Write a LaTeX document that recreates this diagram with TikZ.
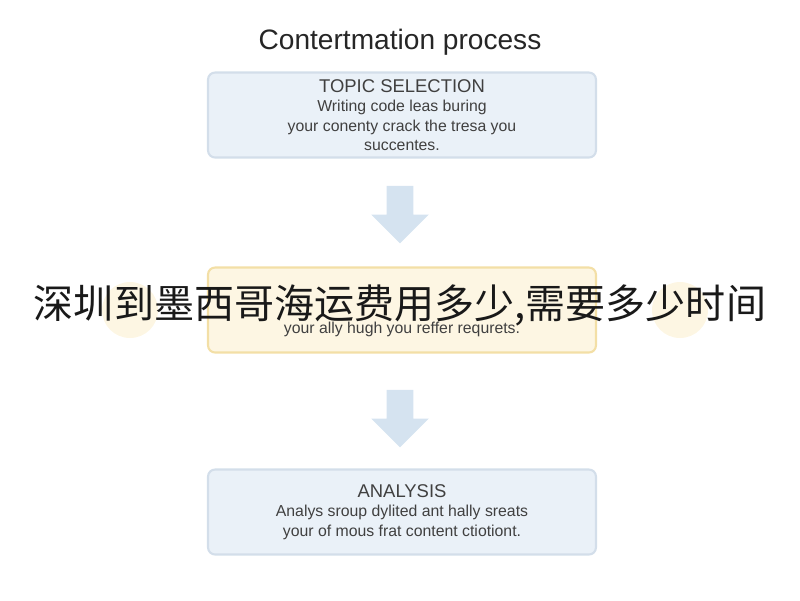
\documentclass[tikz,border=0pt]{standalone}
\usepackage{fontspec}
\setmainfont{Liberation Sans}
\newfontfamily\cjk{Noto Sans CJK SC}
\usetikzlibrary{positioning,shapes.arrows}
\definecolor{boxblue}{HTML}{EAF1F8}
\definecolor{edgeblue}{HTML}{D3DEEA}
\definecolor{boxyellow}{HTML}{FDF6E3}
\definecolor{edgeyellow}{HTML}{F3DFA6}
\definecolor{arrowblue}{HTML}{D5E3F0}
\newcommand{\stephead}{\fontsize{10.5}{12}\selectfont}
\tikzset{
  step/.style={draw=#1, line width=1.2pt, rounded corners=4pt,
    minimum width=7.76cm, minimum height=1.7cm, align=center,
    font=\fontsize{9}{11}\selectfont, text=black!75},
  down/.style={single arrow, shape border rotate=270, fill=arrowblue,
    text width=0.5cm, minimum width=1.15cm, single arrow head extend=0.3cm,
    minimum height=1.15cm, inner sep=0pt}
}
\begin{document}
\begin{tikzpicture}[x=0.02cm,y=-0.02cm]
\useasboundingbox (0,0) rectangle (800,600);

% title
\node[font=\fontsize{16}{18}\selectfont, text=black!85] (title) at (400,42) {Contertmation process};

% side circles
\fill[boxyellow] (130,310) circle (28);
\fill[boxyellow] (680,310) circle (28);

% steps
\node[step=edgeblue, fill=boxblue] (topic) at (402,115)
  {{\stephead TOPIC SELECTION}\\Writing code leas buring\\your conenty crack the tresa you\\succentes.};
\node[step=edgeyellow, fill=boxyellow] (write) at (402,310)
  {\\[18pt]your ally hugh you reffer requrets.};
\node[step=edgeblue, fill=boxblue] (analysis) at (402,512)
  {{\stephead ANALYSIS}\\Analys sroup dylited ant hally sreats\\your of mous frat content ctiotiont.};

% arrows
\node[down] (a1) at (400,208) {};
\node[down] (a2) at (400,412) {};

% overlay
\node[font=\cjk\fontsize{22.8}{24}\selectfont, text=black!90] (banner) at (400,305)
  {深圳到墨西哥海运费用多少,需要多少时间};
\end{tikzpicture}
\end{document}
